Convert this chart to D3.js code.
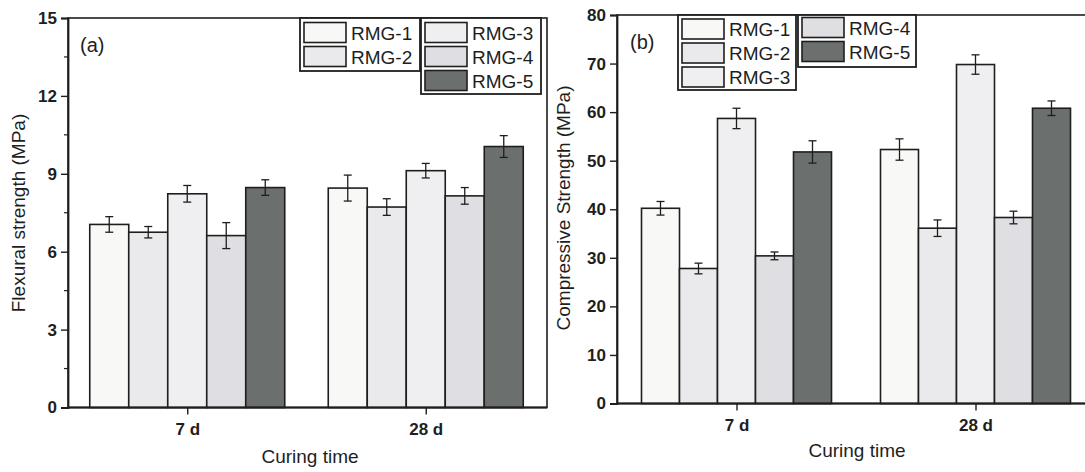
<!DOCTYPE html>
<html>
<head>
<meta charset="utf-8">
<script src="https://cdn.jsdelivr.net/npm/d3@7"></script>
<style>
  html, body { margin: 0; padding: 0; background: #fff; }
  svg { display: block; font-family: "Liberation Sans", Arial, Helvetica, sans-serif; }
</style>
</head>
<body>
<svg id="chart" width="1085" height="472"></svg>
<script>
// ---------- data ----------
const categories = ["7 d", "28 d"];
const series = ["RMG-1", "RMG-2", "RMG-3", "RMG-4", "RMG-5"];
const seriesColors = ["#f8f8f6", "#eaeaec", "#efeff2", "#dfdfe3", "#6b6f6d"];

// Panel (a) flexural strength, MPa  [7 d, 28 d]
const flexRMG1 = [7.05, 8.45];
const flexRMG2 = [6.75, 7.72];
const flexRMG3 = [8.23, 9.12];
const flexRMG4 = [6.62, 8.15];
const flexRMG5 = [8.47, 10.05];
const flexErr1 = [0.30, 0.50];
const flexErr2 = [0.22, 0.32];
const flexErr3 = [0.32, 0.28];
const flexErr4 = [0.50, 0.32];
const flexErr5 = [0.30, 0.42];
const flexTicks = [0, 3, 6, 9, 12, 15];
const flexMinorTicks = [1.5, 4.5, 7.5, 10.5, 13.5];

// Panel (b) compressive strength, MPa  [7 d, 28 d]
const compRMG1 = [40.2, 52.3];
const compRMG2 = [27.8, 36.1];
const compRMG3 = [58.7, 69.8];
const compRMG4 = [30.4, 38.3];
const compRMG5 = [51.8, 60.8];
const compErr1 = [1.4, 2.2];
const compErr2 = [1.1, 1.7];
const compErr3 = [2.1, 2.0];
const compErr4 = [0.8, 1.3];
const compErr5 = [2.3, 1.5];
const compTicks = [0, 10, 20, 30, 40, 50, 60, 70, 80];

const svg = d3.select("#chart");
const ink = "#1e1e1e";

function drawPanel(cfg) {
  const g = svg.append("g");
  const x = d3.scalePoint().domain(categories).range([cfg.x0, cfg.x1 - 2]).padding(0.5);
  const xs = d3.scaleBand().domain(series).range([-cfg.groupW / 2, cfg.groupW / 2]).padding(0);
  const y = d3.scaleLinear().domain(cfg.yDomain).range([cfg.yBottom, cfg.yTop]);

  // frame (top & right)
  g.append("rect")
    .attr("x", cfg.x0).attr("y", y(cfg.yDomain[1]))
    .attr("width", cfg.x1 - cfg.x0).attr("height", y(cfg.yDomain[0]) - y(cfg.yDomain[1]))
    .attr("fill", "none").attr("stroke", ink).attr("stroke-width", 1.6);

  // bars
  const rows = [];
  series.forEach((s, si) => {
    categories.forEach((c, ci) => {
      rows.push({ s, si, c, v: cfg.values[si][ci], e: cfg.errors[si][ci] });
    });
  });
  g.selectAll("rect.bar").data(rows).enter().append("rect")
    .attr("class", "bar")
    .attr("x", d => x(d.c) + xs(d.s))
    .attr("y", d => y(d.v))
    .attr("width", xs.bandwidth())
    .attr("height", d => y(0) - y(d.v))
    .attr("fill", d => seriesColors[d.si])
    .attr("stroke", ink).attr("stroke-width", 1.6);

  // error bars
  const eb = g.selectAll("g.err").data(rows).enter().append("g").attr("class", "err")
    .attr("stroke", ink).attr("stroke-width", 1.3);
  const cx = d => x(d.c) + xs(d.s) + xs.bandwidth() / 2;
  eb.append("line").attr("x1", cx).attr("x2", cx)
    .attr("y1", d => y(d.v + d.e)).attr("y2", d => y(d.v - d.e));
  eb.append("line").attr("x1", d => cx(d) - 4).attr("x2", d => cx(d) + 4)
    .attr("y1", d => y(d.v + d.e)).attr("y2", d => y(d.v + d.e));
  eb.append("line").attr("x1", d => cx(d) - 4).attr("x2", d => cx(d) + 4)
    .attr("y1", d => y(d.v - d.e)).attr("y2", d => y(d.v - d.e));

  // y axis
  const yAxis = g.append("g").attr("transform", `translate(${cfg.x0},0)`)
    .call(d3.axisLeft(y).tickValues(cfg.ticks).tickSize(7).tickPadding(4).tickFormat(d3.format("d")));
  yAxis.select(".domain").attr("stroke", ink).attr("stroke-width", 1.8);
  yAxis.selectAll(".tick line").attr("stroke", ink).attr("stroke-width", 1.4);
  yAxis.selectAll(".tick text").attr("fill", ink).attr("font-size", 17).attr("font-weight", "bold")
    .attr("font-family", "Liberation Sans, Arial, sans-serif");
  if (cfg.minor) {
    g.append("g").selectAll("line").data(cfg.minor).enter().append("line")
      .attr("x1", cfg.x0 - 4).attr("x2", cfg.x0)
      .attr("y1", d => y(d)).attr("y2", d => y(d))
      .attr("stroke", ink).attr("stroke-width", 1.2);
  }

  // x axis
  const xAxis = g.append("g").attr("transform", `translate(0,${y(0)})`)
    .call(d3.axisBottom(x).tickSize(7).tickPadding(8).tickSizeOuter(0));
  xAxis.select(".domain").attr("stroke", ink).attr("stroke-width", 1.8)
    .attr("d", `M${cfg.x0},0H${cfg.x1}`);
  xAxis.selectAll(".tick line").attr("stroke", ink).attr("stroke-width", 1.4);
  xAxis.selectAll(".tick text").attr("fill", ink).attr("font-size", 17).attr("font-weight", "bold")
    .attr("font-family", "Liberation Sans, Arial, sans-serif");

  // titles
  g.append("text").attr("x", cfg.xTitleX).attr("y", cfg.xTitleY)
    .attr("text-anchor", "middle").attr("font-size", 19).attr("fill", ink).text("Curing time");
  g.append("text")
    .attr("transform", `translate(${cfg.yTitleX},${cfg.yTitleY}) rotate(-90)`)
    .attr("text-anchor", "middle").attr("font-size", 19).attr("fill", ink).text(cfg.yTitle);
  g.append("text").attr("x", cfg.tagX).attr("y", cfg.tagY)
    .attr("font-size", 20).attr("fill", ink).text(cfg.tag);

  // legend
  cfg.legendBoxes.forEach(box => {
    g.append("rect").attr("x", box.x).attr("y", box.y).attr("width", box.w).attr("height", box.h)
      .attr("fill", "#fff").attr("stroke", ink).attr("stroke-width", 1.8);
    box.items.forEach((si, k) => {
      const top = box.y + box.first + k * 24;
      g.append("rect").attr("x", box.x + 4).attr("y", top).attr("width", 42).attr("height", 20)
        .attr("fill", seriesColors[si]).attr("stroke", ink).attr("stroke-width", 1.6);
      g.append("text").attr("x", box.x + 51).attr("y", top + 17)
        .attr("font-size", 19).attr("fill", ink).text(series[si]);
    });
  });
}

drawPanel({
  x0: 68, x1: 547, yTop: 18, yBottom: 407.5, yDomain: [0, 15], groupW: 195,
  values: [flexRMG1, flexRMG2, flexRMG3, flexRMG4, flexRMG5],
  errors: [flexErr1, flexErr2, flexErr3, flexErr4, flexErr5],
  ticks: flexTicks, minor: flexMinorTicks,
  xTitleX: 310, xTitleY: 463, yTitleX: 25, yTitleY: 213,
  yTitle: "Flexural strength (MPa)", tag: "(a)", tagX: 80, tagY: 52,
  legendBoxes: [
    { x: 300, y: 18, w: 120, h: 53, first: 4.5, items: [0, 1] },
    { x: 421, y: 18, w: 120, h: 76, first: 4.5, items: [2, 3, 4] }
  ]
});

drawPanel({
  x0: 617, x1: 1097, yTop: 15, yBottom: 403.5, yDomain: [0, 80], groupW: 190,
  values: [compRMG1, compRMG2, compRMG3, compRMG4, compRMG5],
  errors: [compErr1, compErr2, compErr3, compErr4, compErr5],
  ticks: compTicks, minor: null,
  xTitleX: 857, xTitleY: 457, yTitleX: 570, yTitleY: 208,
  yTitle: "Compressive Strength (MPa)", tag: "(b)", tagX: 630, tagY: 49,
  legendBoxes: [
    { x: 678, y: 15, w: 118, h: 75, first: 4, items: [0, 1, 2] },
    { x: 798, y: 15, w: 118, h: 52, first: 2.5, items: [3, 4] }
  ]
});
</script>
</body>
</html>
